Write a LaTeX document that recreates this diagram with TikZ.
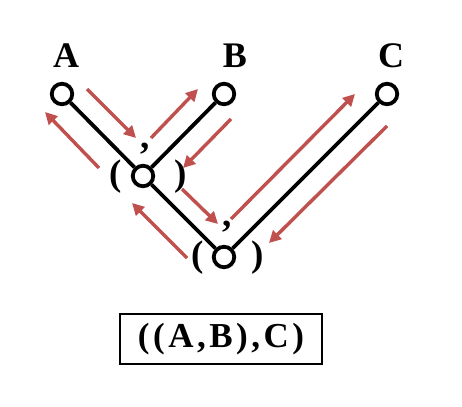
\documentclass[tikz,border=0pt]{standalone}
\usepackage{fontspec}
\setmainfont{Liberation Serif}
\newfontfamily\spacedfont[LetterSpace=10]{Liberation Serif}
\usetikzlibrary{arrows.meta}
\definecolor{travred}{HTML}{C0504D}

\begin{document}
\begin{tikzpicture}[
        x=1pt, y=-1pt,
        vertex/.style={circle, draw, line width=3.8pt, fill=white, minimum size=20.5pt, inner sep=0pt},
        leaflabel/.style={font=\fontsize{36}{40}\selectfont\bfseries},
        punct/.style={font=\fontsize{37}{40}\selectfont\bfseries, inner sep=0pt},
        trav/.style={travred, line width=3.4pt, -{Triangle[length=12pt,width=12pt]}}
    ]
    \useasboundingbox (0,0) rectangle (462,406);

    % Tree
    \node[vertex] (A) at (62,94) {};
    \node[vertex] (B) at (224,94) {};
    \node[vertex] (C) at (387,94) {};
    \node[vertex] (AB) at (143,176) {};
    \node[vertex] (ABC) at (224,257) {};
    \draw[line width=3.8pt] (A) -- (AB) -- (B);
    \draw[line width=3.8pt] (AB) -- (ABC) -- (C);

    % Labels
    \node[leaflabel] (lA) at (66,56) {A};
    \node[leaflabel] (lB) at (235,56) {B};
    \node[leaflabel] (lC) at (391,56) {C};

    \node[punct] (ABopen) at (116,177) {(};
    \node[punct] (ABcomma) at (145,149) {,};
    \node[punct] (ABclose) at (181,177) {)};
    \node[punct] (ABCopen) at (198,258) {(};
    \node[punct] (ABCcomma) at (227,227) {,};
    \node[punct] (ABCclose) at (258,258) {)};

    % Traversal
    \draw[trav] ([shift={(25,-5)}]A.center) -- ([shift={(-7,-38)}]AB.center);
    \draw[trav] ([shift={(8,-38)}]AB.center) -- ([shift={(-26,-5)}]B.center);
    \draw[trav] ([shift={(7,25)}]B.center) -- ([shift={(40,-8)}]AB.center);
    \draw[trav] ([shift={(-44,-8)}]AB.center) -- ([shift={(-17,18)}]A.center);
    \draw[trav] ([shift={(39,13)}]AB.center) -- ([shift={(-6,-33)}]ABC.center);
    \draw[trav] ([shift={(7,-38)}]ABC.center) -- ([shift={(-32,0)}]C.center);
    \draw[trav] ([shift={(0,32)}]C.center) -- ([shift={(45,-14)}]ABC.center);
    \draw[trav] ([shift={(-37,1)}]ABC.center) -- ([shift={(-11,27)}]AB.center);

    % Result
    \node[draw, line width=2pt, minimum width=202pt, minimum height=50pt,
        font=\fontsize{35}{38}\selectfont\bfseries] (result) at (221,339) {\spacedfont((A,B),C)};
\end{tikzpicture}
\end{document}
